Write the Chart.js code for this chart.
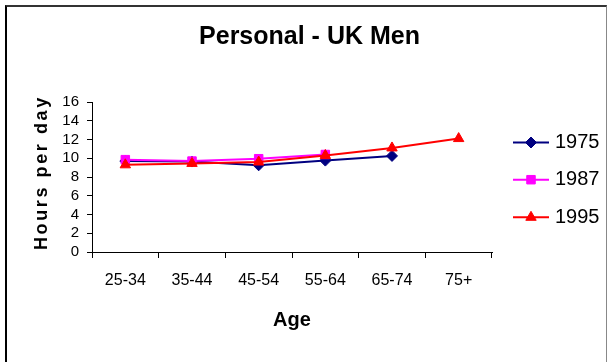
<!DOCTYPE html>
<html>
<head>
<meta charset="utf-8">
<title>Personal - UK Men</title>
<script src="https://cdn.jsdelivr.net/npm/chart.js@4.4.1/dist/chart.umd.min.js"></script>
<style>
  html, body { margin: 0; padding: 0; background: #fff; }
  #frame {
    position: absolute; left: 5px; top: 5px; width: 602px; height: 420px;
    box-sizing: border-box;
    border-left: 2px solid #000; border-top: 2px solid #333; border-right: 1px solid #888;
  }
  #wrap { position: absolute; left: 0; top: 0; width: 612px; height: 362px; }
</style>
</head>
<body>
<div id="frame"></div>
<div id="wrap"><canvas id="chart" width="612" height="362"></canvas></div>
<script>
// Hours per day spent on personal care, UK men, by age group
const ageGroups = ['25-34', '35-44', '45-54', '55-64', '65-74', '75+'];
const seriesNames = ['1975', '1987', '1995'];
const men1975 = [9.7, 9.65, 9.25, 9.75, 10.25, null];
const men1987 = [9.85, 9.7, 9.95, 10.4, null, null];
const men1995 = [9.3, 9.45, 9.6, 10.3, 11.1, 12.1];
const yTickValues = [0, 2, 4, 6, 8, 10, 12, 14, 16];

const FONT = '"Liberation Sans", Arial, sans-serif';
Chart.defaults.font.family = FONT;
Chart.defaults.color = '#000';

// Fallback marker drawing if Chart.helpers is not exposed
function drawMarker(ctx, style, r, x, y) {
  if (Chart.helpers && Chart.helpers.drawPoint) {
    Chart.helpers.drawPoint(ctx, { pointStyle: style, radius: r, borderWidth: 1, rotation: 0 }, x, y);
    return;
  }
  ctx.beginPath();
  if (style === 'rect') {
    const s = r * Math.SQRT1_2;
    ctx.rect(x - s, y - s, 2 * s, 2 * s);
  } else if (style === 'rectRot') {
    ctx.moveTo(x, y - r); ctx.lineTo(x + r, y); ctx.lineTo(x, y + r); ctx.lineTo(x - r, y);
  } else {
    ctx.moveTo(x, y - r);
    ctx.lineTo(x + r * Math.sin(2 * Math.PI / 3), y - r * Math.cos(2 * Math.PI / 3));
    ctx.lineTo(x + r * Math.sin(4 * Math.PI / 3), y - r * Math.cos(4 * Math.PI / 3));
  }
  ctx.closePath();
  ctx.fill();
  ctx.stroke();
}

// Rotated, letter-spaced y-axis title
const yTitlePlugin = {
  id: 'yTitle',
  afterDraw(chart) {
    const ctx = chart.ctx;
    ctx.save();
    ctx.translate(47, 250);
    ctx.rotate(-Math.PI / 2);
    ctx.font = 'bold 18px ' + FONT;
    try { ctx.letterSpacing = '2.6px'; } catch (e) {}
    ctx.fillStyle = '#000';
    ctx.textAlign = 'left';
    ctx.textBaseline = 'alphabetic';
    ctx.fillText('Hours per day', 0, 0);
    ctx.restore();
  }
};

// Legend to the right of the plot: line with marker, then the year
const sideLegendPlugin = {
  id: 'sideLegend',
  afterDraw(chart) {
    const ctx = chart.ctx;
    const area = chart.chartArea;
    const x0 = area.right + 21;
    const lineLen = 36;
    const rows = [142.5, 179.7, 217.3];
    chart.data.datasets.forEach((ds, i) => {
      const y = rows[i];
      ctx.save();
      ctx.strokeStyle = ds.borderColor;
      ctx.lineWidth = 2;
      ctx.beginPath();
      ctx.moveTo(x0, y);
      ctx.lineTo(x0 + lineLen, y);
      ctx.stroke();
      ctx.fillStyle = ds.pointBackgroundColor;
      ctx.strokeStyle = ds.pointBorderColor;
      ctx.lineWidth = 1;
      drawMarker(ctx, ds.pointStyle, ds.pointRadius, x0 + lineLen / 2, y);
      ctx.fillStyle = '#000';
      ctx.font = '20px ' + FONT;
      ctx.textAlign = 'left';
      ctx.textBaseline = 'middle';
      ctx.fillText(ds.label, x0 + lineLen + 6, y);
      ctx.restore();
    });
  }
};

function series(label, data, color, style, radius, order) {
  return {
    label, data, order,
    borderColor: color, backgroundColor: color,
    borderWidth: 2,
    pointStyle: style, pointRadius: radius, pointHoverRadius: radius,
    pointBackgroundColor: color, pointBorderColor: color, pointBorderWidth: 1,
    tension: 0, spanGaps: false, fill: false
  };
}

new Chart(document.getElementById('chart'), {
  type: 'line',
  data: {
    labels: ageGroups,
    datasets: [
      series(seriesNames[0], men1975, '#000080', 'rectRot', 5.5, 3),
      series(seriesNames[1], men1987, '#FF00FF', 'rect', 6, 2),
      series(seriesNames[2], men1995, '#FF0000', 'triangle', 6, 1)
    ]
  },
  options: {
    responsive: false,
    animation: false,
    layout: { padding: { left: 7, right: 0, top: 0, bottom: 0 } },
    plugins: {
      legend: { display: false },
      tooltip: { enabled: false },
      title: {
        display: true,
        text: 'Personal - UK Men',
        font: { size: 25, weight: 'bold', lineHeight: 1.2 },
        padding: { top: 22.5, bottom: 49.5 },
        color: '#000'
      }
    },
    scales: {
      x: {
        type: 'category',
        offset: true,
        grid: { display: true, offset: true, drawOnChartArea: false, drawTicks: true, tickLength: 6, color: '#000', lineWidth: 1 },
        border: { display: true, color: '#000', width: 1 },
        ticks: { font: { size: 16 }, padding: 13, maxRotation: 0, autoSkip: false, color: '#000' },
        title: { display: true, text: 'Age', font: { size: 20, weight: 'bold', lineHeight: 1.2 }, padding: { top: 0, bottom: 30 }, color: '#000' },
        afterFit: s => { s.height = 110; }
      },
      y: {
        min: 0, max: 16,
        afterBuildTicks: s => { s.ticks = yTickValues.map(v => ({ value: v })); },
        grid: { display: true, drawOnChartArea: false, drawTicks: true, tickLength: 5, color: '#000', lineWidth: 1 },
        border: { display: true, color: '#000', width: 1 },
        ticks: { font: { size: 15 }, padding: 8, autoSkip: false, color: '#000' },
        afterFit: s => { s.width = 85; }
      },
      side: {
        type: 'linear', position: 'right', display: true,
        grid: { display: false }, border: { display: false },
        ticks: { display: false },
        afterFit: s => { s.width = 120; }
      }
    }
  },
  plugins: [yTitlePlugin, sideLegendPlugin]
});
</script>
</body>
</html>
